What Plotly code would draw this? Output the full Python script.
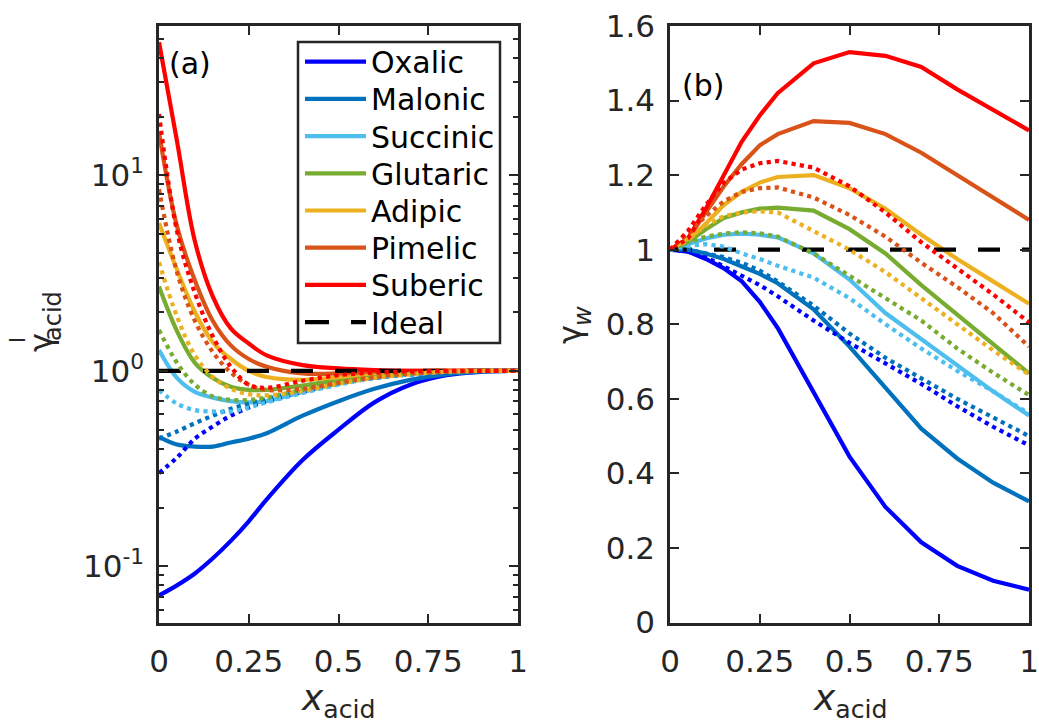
import plotly.graph_objects as go

W, H = 1039, 727

x = [0, 0.05, 0.1, 0.15, 0.2, 0.25, 0.3, 0.4, 0.5, 0.6, 0.7, 0.8, 0.9, 1.0]

acids = ["Oxalic", "Malonic", "Succinic", "Glutaric", "Adipic", "Pimelic", "Suberic"]
colors = ["#0000FF", "#0072BD", "#4DBEEE", "#77AC30", "#EDB120", "#D95319", "#FF0000"]
legend_labels = acids + ["Ideal"]

# panel (a): acid activity coefficient (solid = model 1, dotted = model 2)
ga_solid = {
    "Oxalic":   [0.071, 0.08, 0.092, 0.11, 0.135, 0.17, 0.22, 0.35, 0.50, 0.69, 0.85, 0.95, 0.99, 1.0],
    "Malonic":  [0.46, 0.42, 0.41, 0.41, 0.43, 0.45, 0.48, 0.59, 0.70, 0.81, 0.90, 0.96, 0.99, 1.0],
    "Succinic": [1.28, 0.92, 0.78, 0.73, 0.70, 0.69, 0.70, 0.78, 0.86, 0.93, 0.97, 0.99, 1.0, 1.0],
    "Glutaric": [2.7, 1.6, 1.1, 0.92, 0.83, 0.80, 0.80, 0.84, 0.90, 0.95, 0.98, 0.995, 1.0, 1.0],
    "Adipic":   [5.7, 3.3, 2.0, 1.4, 1.15, 1.0, 0.93, 0.90, 0.93, 0.97, 0.99, 1.0, 1.0, 1.0],
    "Pimelic":  [16.6, 5.5, 2.9, 1.8, 1.35, 1.15, 1.05, 0.97, 0.97, 0.99, 1.0, 1.0, 1.0, 1.0],
    "Suberic":  [48.0, 15.0, 4.6, 2.4, 1.65, 1.38, 1.2, 1.07, 1.03, 1.01, 1.0, 1.0, 1.0, 1.0],
}
ga_dot = {
    "Oxalic":   [0.30, 0.36, 0.45, 0.52, 0.59, 0.65, 0.70, 0.78, 0.86, 0.92, 0.96, 0.985, 0.998, 1.0],
    "Malonic":  [0.45, 0.49, 0.54, 0.59, 0.64, 0.68, 0.72, 0.79, 0.86, 0.92, 0.96, 0.985, 0.998, 1.0],
    "Succinic": [0.80, 0.68, 0.63, 0.62, 0.62, 0.65, 0.69, 0.77, 0.85, 0.92, 0.96, 0.99, 1.0, 1.0],
    "Glutaric": [1.62, 1.1, 0.85, 0.74, 0.71, 0.71, 0.73, 0.80, 0.87, 0.93, 0.97, 0.99, 1.0, 1.0],
    "Adipic":   [3.6, 1.9, 1.2, 0.93, 0.81, 0.76, 0.75, 0.79, 0.86, 0.92, 0.96, 0.99, 1.0, 1.0],
    "Pimelic":  [8.5, 3.2, 1.8, 1.25, 0.98, 0.85, 0.80, 0.81, 0.87, 0.93, 0.97, 0.99, 1.0, 1.0],
    "Suberic":  [20.6, 5.2, 2.5, 1.5, 1.05, 0.85, 0.82, 0.89, 0.95, 0.98, 0.995, 1.0, 1.0, 1.0],
}

# panel (b): water activity coefficient
gw_solid = {
    "Oxalic":   [1.0, 0.995, 0.975, 0.95, 0.915, 0.86, 0.79, 0.62, 0.445, 0.31, 0.215, 0.152, 0.112, 0.088],
    "Malonic":  [1.0, 1.0, 0.99, 0.975, 0.955, 0.935, 0.91, 0.84, 0.74, 0.63, 0.52, 0.44, 0.375, 0.325],
    "Succinic": [1.0, 1.015, 1.03, 1.04, 1.043, 1.04, 1.033, 0.99, 0.92, 0.83, 0.76, 0.69, 0.62, 0.555],
    "Glutaric": [1.0, 1.02, 1.055, 1.085, 1.10, 1.11, 1.113, 1.105, 1.055, 0.99, 0.905, 0.825, 0.745, 0.668],
    "Adipic":   [1.0, 1.025, 1.07, 1.12, 1.155, 1.18, 1.195, 1.20, 1.165, 1.11, 1.04, 0.975, 0.915, 0.855],
    "Pimelic":  [1.0, 1.03, 1.10, 1.17, 1.23, 1.28, 1.31, 1.345, 1.34, 1.31, 1.26, 1.20, 1.14, 1.08],
    "Suberic":  [1.0, 1.03, 1.11, 1.20, 1.29, 1.36, 1.42, 1.50, 1.53, 1.52, 1.49, 1.43, 1.375, 1.32],
}
gw_dot = {
    "Oxalic":   [1.0, 0.995, 0.98, 0.955, 0.93, 0.905, 0.875, 0.81, 0.75, 0.695, 0.64, 0.58, 0.525, 0.475],
    "Malonic":  [1.0, 1.0, 0.99, 0.98, 0.965, 0.944, 0.915, 0.85, 0.775, 0.71, 0.655, 0.60, 0.55, 0.50],
    "Succinic": [1.0, 1.01, 1.015, 1.008, 0.99, 0.975, 0.957, 0.925, 0.87, 0.80, 0.735, 0.675, 0.62, 0.56],
    "Glutaric": [1.0, 1.02, 1.035, 1.043, 1.047, 1.044, 1.035, 0.99, 0.93, 0.87, 0.81, 0.735, 0.67, 0.61],
    "Adipic":   [1.0, 1.03, 1.065, 1.09, 1.10, 1.103, 1.10, 1.05, 1.0, 0.94, 0.87, 0.80, 0.73, 0.665],
    "Pimelic":  [1.0, 1.045, 1.09, 1.13, 1.155, 1.165, 1.167, 1.14, 1.093, 1.035, 0.965, 0.90, 0.83, 0.74],
    "Suberic":  [1.0, 1.05, 1.12, 1.18, 1.215, 1.232, 1.238, 1.22, 1.17, 1.10, 1.02, 0.95, 0.88, 0.805],
}

ideal_x = [0, 1]
ideal_y = [1, 1]

xticks = [0, 0.25, 0.5, 0.75, 1]
xticktext = ["0", "0.25", "0.5", "0.75", "1"]
ya_ticks = [0.1, 1, 10]
ya_ticktext = ["10<sup>-1</sup>", "10<sup>0</sup>", "10<sup>1</sup>"]
ya_minor = [v * m for v in [0.01, 0.1, 1, 10] for m in range(2, 10)]
yb_ticks = [0, 0.2, 0.4, 0.6, 0.8, 1.0, 1.2, 1.4, 1.6]
yb_ticktext = ["0", "0.2", "0.4", "0.6", "0.8", "1", "1.2", "1.4", "1.6"]

FONT = "DejaVu Sans"
AX = "#262626"
LW = 4.2
DASH = "22px,22px"
SMOOTH = 1.0

fig = go.Figure()

# solids
for name, c in zip(acids, colors):
    fig.add_trace(go.Scatter(x=x, y=ga_solid[name], mode="lines", name=name,
                             line=dict(color=c, width=LW, shape="spline", smoothing=SMOOTH),
                             xaxis="x", yaxis="y", showlegend=False))
    fig.add_trace(go.Scatter(x=x, y=gw_solid[name], mode="lines", name=name,
                             line=dict(color=c, width=LW), xaxis="x2", yaxis="y2",
                             showlegend=False))
# ideal
fig.add_trace(go.Scatter(x=ideal_x, y=ideal_y, mode="lines", name="Ideal",
                         line=dict(color="black", width=LW, dash=DASH),
                         xaxis="x", yaxis="y", showlegend=False))
fig.add_trace(go.Scatter(x=ideal_x, y=ideal_y, mode="lines", name="Ideal",
                         line=dict(color="black", width=LW, dash=DASH),
                         xaxis="x2", yaxis="y2", showlegend=False))
# dotted
for name, c in zip(acids, colors):
    fig.add_trace(go.Scatter(x=x, y=ga_dot[name], mode="lines", name=name + " (2)",
                             line=dict(color=c, width=LW, dash="dot", shape="spline", smoothing=SMOOTH),
                             xaxis="x", yaxis="y", showlegend=False))
    fig.add_trace(go.Scatter(x=x, y=gw_dot[name], mode="lines", name=name + " (2)",
                             line=dict(color=c, width=LW, dash="dot"), xaxis="x2", yaxis="y2",
                             showlegend=False))

def px(xp):
    return xp / W

def py(yp):
    return 1 - yp / H

ydom = [py(622.5), py(26)]

def axis(**kw):
    d = dict(showline=True, linecolor=AX, linewidth=2.5, mirror="allticks",
             ticks="inside", ticklen=9, tickwidth=2, tickcolor=AX,
             showgrid=False, zeroline=False, automargin=False,
             tickfont=dict(family=FONT, size=31, color=AX))
    d.update(kw)
    return d

# legend drawn inside panel (a): box, line samples, labels
shapes = [dict(type="rect", xref="paper", yref="paper",
               x0=px(298), x1=px(500), y0=py(343), y1=py(42),
               line=dict(color=AX, width=2.5), fillcolor="white", layer="above")]
ann = []
leg_colors = colors + ["black"]
for i, (lab, c) in enumerate(zip(legend_labels, leg_colors)):
    yy = 61.7 + 37.2 * i
    shapes.append(dict(type="line", xref="paper", yref="paper",
                       x0=px(305), x1=px(366), y0=py(yy), y1=py(yy), layer="above",
                       line=dict(color=c, width=LW, dash=("24px,22px" if lab == "Ideal" else "solid"))))
    ann.append(dict(x=px(369), y=py(yy + 1), text=lab, xanchor="left",
                    font=dict(size=30, color="black")))

fig.update_layout(
    width=W, height=H,
    autosize=False,
    margin=dict(l=0, r=0, t=0, b=0, pad=0, autoexpand=False),
    paper_bgcolor="white", plot_bgcolor="white",
    font=dict(family=FONT, color=AX),
    xaxis=axis(domain=[px(159), px(518)], range=[0, 1], tickvals=xticks, ticktext=xticktext,
               anchor="y", ticklabelstandoff=10),
    yaxis=axis(domain=ydom, type="log", range=[-1.287, 1.764], tickvals=ya_ticks,
               ticktext=ya_ticktext, anchor="x", ticklabelstandoff=6,
               minor=dict(ticks="inside", ticklen=5, tickwidth=2, tickcolor=AX,
                          tickvals=ya_minor)),
    xaxis2=axis(domain=[px(670), px(1029)], range=[0, 1], tickvals=xticks, ticktext=xticktext,
                anchor="y2", ticklabelstandoff=10),
    yaxis2=axis(domain=ydom, range=[0, 1.6], tickvals=yb_ticks, ticktext=yb_ticktext,
                anchor="x2", ticklabelstandoff=6),
    showlegend=False,
    shapes=shapes,
)

ann += [
    dict(x=px(190), y=py(63), text="(a)", font=dict(size=30, color="black")),
    dict(x=px(703), y=py(85), text="(b)", font=dict(size=30, color="black")),
    dict(x=px(338), y=py(700), text="<i>x</i><sub>acid</sub>", font=dict(size=36, color=AX)),
    dict(x=px(850), y=py(700), text="<i>x</i><sub>acid</sub>", font=dict(size=36, color=AX)),
    dict(x=px(41), y=py(343), text="γ", textangle=-90, font=dict(size=32, color=AX)),
    dict(x=px(17), y=py(340), text="l", textangle=-90, font=dict(size=22, color=AX)),
    dict(x=px(53), y=py(316), text="acid", textangle=-90, font=dict(size=24, color=AX)),
    dict(x=px(570), y=py(335), text="γ", textangle=-90, font=dict(size=32, color=AX)),
    dict(x=px(583), y=py(316), text="<i>w</i>", textangle=-90, font=dict(size=24, color=AX)),
]
for a in ann:
    a.setdefault("xanchor", "center")
    a.update(xref="paper", yref="paper", showarrow=False, yanchor="middle")
    a["font"]["family"] = FONT
fig.update_layout(annotations=ann)

fig.write_html("out.html")
